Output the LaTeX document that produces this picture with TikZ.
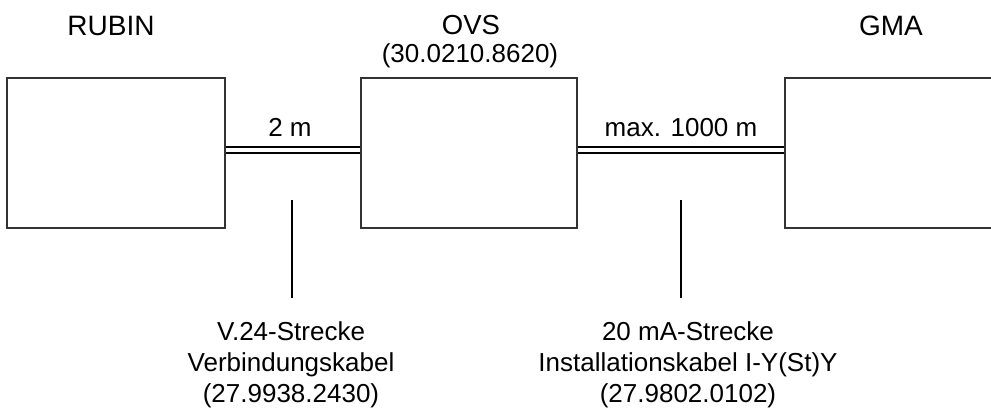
\documentclass[tikz,border=0pt]{standalone}
\usepackage{fontspec}
\setmainfont{Liberation Sans}
\begin{document}
\begin{tikzpicture}[x=1pt,y=-1pt,
  box/.style={draw=black!80,line width=1.3pt,minimum width=218pt,minimum height=150pt,inner sep=0pt},
  lbl/.style={font=\fontsize{26}{31}\selectfont,inner sep=0pt,align=center,anchor=base},
  big/.style={font=\fontsize{28}{31}\selectfont},
  cable/.style={draw=black,line width=1.4pt,double=white,double distance=4.6pt},
  stem/.style={draw=black,line width=1.4pt}]
\clip (0,0) rectangle (991,412);
\useasboundingbox (0,0) rectangle (991,412);
\node[box] (rubin) at (116,153) {};
\node[box,minimum width=216pt] (ovs) at (469,153) {};
\node[box] (gma) at (894,153) {};
\node[lbl,big] (trubin) at (111,36) {RUBIN};
\node[lbl,font=\fontsize{27.5}{31}\selectfont] (tovs) at (471,35) {OVS};
\node[lbl] (tovsnr) at (470,63) {(30.0210.8620)};
\node[lbl,big] (tgma) at (891,36) {GMA};
\draw[cable] (rubin.east |- 0,150) -- (ovs.west |- 0,150);
\draw[cable] (ovs.east |- 0,150) -- (gma.west |- 0,150);
\node[lbl] (l2m) at (290,136) {2 m};
\node[lbl] (l1000) at (681,136) {max. 1000 m};
\coordinate (s1) at (292,200);
\coordinate (s2) at (681,200);
\node[lbl] (v24) at (291,402) {V.24-Strecke\\Verbindungskabel\\(27.9938.2430)};
\node[lbl] (ma20) at (688,402) {20 mA-Strecke\\Installationskabel I-Y(St)Y\\(27.9802.0102)};
\coordinate (e1) at (292,298);
\coordinate (e2) at (681,298);
\draw[stem] (s1) -- (e1);
\draw[stem] (s2) -- (e2);
\end{tikzpicture}
\end{document}
